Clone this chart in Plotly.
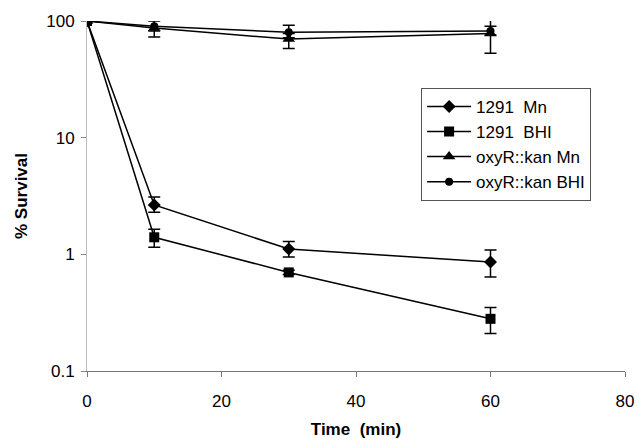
import plotly.graph_objects as go

time_min = [0, 10, 30, 60]

mn_1291 = [100, 2.65, 1.11, 0.86]
mn_1291_plus = [0, 0.45, 0.18, 0.23]
mn_1291_minus = [0, 0.35, 0.16, 0.22]

bhi_1291 = [100, 1.40, 0.70, 0.28]
bhi_1291_plus = [0, 0.24, 0.03, 0.07]
bhi_1291_minus = [0, 0.25, 0.03, 0.07]

oxyr_mn = [100, 87, 70, 78]
oxyr_mn_plus = [0, 15, 8, 26]
oxyr_mn_minus = [0, 14, 12, 25]

oxyr_bhi = [100, 90, 80, 82]
oxyr_bhi_plus = [0, 10, 12, 8]
oxyr_bhi_minus = [0, 8, 8, 6]

series_names = ["1291  Mn", "1291  BHI", "oxyR::kan Mn", "oxyR::kan BHI"]
series_vals = [mn_1291, bhi_1291, oxyr_mn, oxyr_bhi]
series_plus = [mn_1291_plus, bhi_1291_plus, oxyr_mn_plus, oxyr_bhi_plus]
series_minus = [mn_1291_minus, bhi_1291_minus, oxyr_mn_minus, oxyr_bhi_minus]
symbols = ["diamond", "square", "triangle-up", "circle"]
sizes = [10, 10, 11, 8]

fig = go.Figure()
for name, vals, ep, em, sym, sz in zip(series_names, series_vals, series_plus,
                                       series_minus, symbols, sizes):
    fig.add_trace(go.Scatter(
        x=time_min, y=vals, name=name, mode="lines+markers",
        line=dict(color="black", width=1.5),
        marker=dict(symbol=sym, size=sz, color="black"),
        error_y=dict(type="data", symmetric=False, array=ep, arrayminus=em,
                     color="black", thickness=1.5, width=6),
    ))

font_family = "Liberation Sans, Arial, sans-serif"
fig.update_layout(
    width=639, height=442,
    paper_bgcolor="white", plot_bgcolor="white",
    margin=dict(l=87, r=14, t=21, b=71),
    font=dict(family=font_family, size=17, color="black"),
    showlegend=True,
    legend=dict(
        x=0.621, y=0.809, xanchor="left", yanchor="top",
        bgcolor="white", bordercolor="#555", borderwidth=1,
        font=dict(family=font_family, size=17, color="black"),
        itemwidth=44,
    ),
    xaxis=dict(
        range=[0, 80], tickvals=[0, 20, 40, 60, 80],
        showgrid=False, zeroline=False, automargin=False,
        showline=True, linecolor="#777", linewidth=1,
        ticks="outside", ticklen=5, tickcolor="#777",
        ticklabelstandoff=10,
        title=dict(text="<b>Time  (min)</b>", standoff=12,
                   font=dict(size=17)),
        tickfont=dict(size=17),
    ),
    yaxis=dict(
        type="log", range=[-1, 2],
        tickvals=[0.1, 1, 10, 100], ticktext=["0.1", "1", "10", "100"],
        showgrid=False, zeroline=False, automargin=False,
        showline=True, linecolor="#bbb", linewidth=1,
        ticks="outside", ticklen=5, tickcolor="#888",
        ticklabelstandoff=3,
        title=dict(text="<b>% Survival</b>", standoff=14,
                   font=dict(size=17)),
        tickfont=dict(size=17),
    ),
)

fig.write_html(
    "out.html",
    config={"displayModeBar": False},
    post_script="document.body.style.margin='0';document.body.style.padding='0';",
)
